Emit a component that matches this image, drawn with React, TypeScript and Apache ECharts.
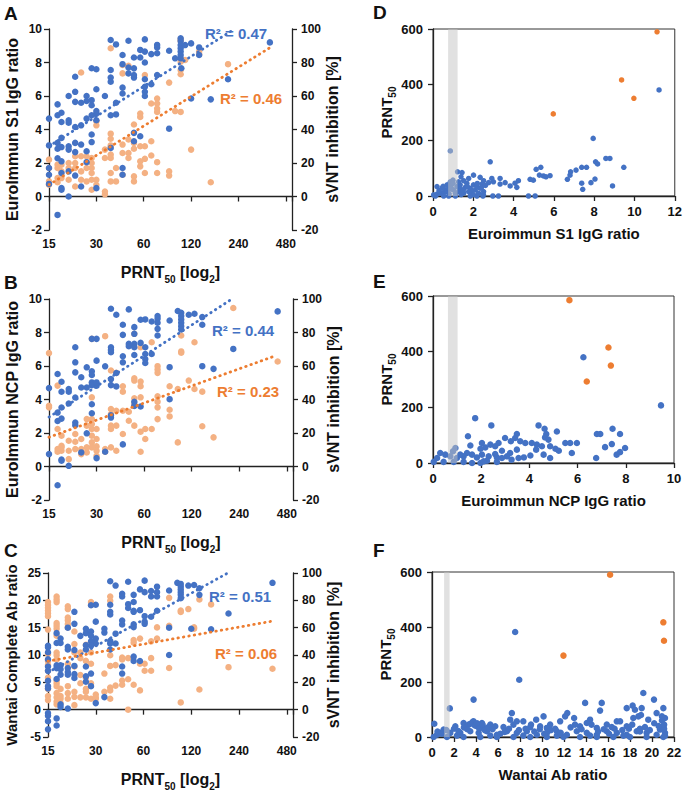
import React, { useEffect, useRef } from 'react';
import * as echarts from 'echarts';

const FONT = '"Liberation Sans", Arial, sans-serif';
const BLUE = '#4472C4';
const ORANGE_L = '#F4B183';
const ORANGE = '#ED7D31';
const INK = '#111';

const X_TICKS_PRNT = [15, 30, 60, 120, 240, 480];

// Panel A: PRNT50 vs Euroimmun S1 IgG ratio (blue) and sVNT % (orange)
const aS1 = [[37,9.34],[48,9.3],[61,9.38],[40,9.08],[103,9.28],[120,9.14],[103,9.04],[103,8.85],[103,8.65],[103,8.45],[103,8.25],[135,8.9],[135,8.45],[110,9.04],[380,9.2],
[57,8.75],[67,8.5],[73,9.05],[73,8.9],[73,8.55],[61,8.65],[87,8.7],[52,8.3],[44,8.45],[57,8.3],[61,8.0],[95,8.25],[104,7.66],[28,7.66],[30,7.6],[22,7.15],
[44,7.9],[48,7.7],[48,7.35],[52,7.25],[52,7.65],[52,7.1],[61,7.0],[67,6.7],[73,7.25],[37,7.55],[37,7.1],[37,6.85],[30,6.4],[44,6.5],[61,6.55],[61,6.25],[61,6.0],[44,6.15],[40,5.6],[34,6.0],[26,6.0],[26,5.7],[28,5.75],[28,5.45],[24,5.6],[22,6.25],[20,6.0],[22,5.65],[17,5.5],[17,4.85],[18,5.0],[18,4.45],[20,4.55],[20,4.4],[22,4.15],[24,4.25],[26,4.65],[28,4.85],[30,4.95],[30,5.1],[30,4.55],[37,4.85],[40,4.9],[15,4.65],[52,3.8],[52,3.3],[57,3.6],[87,4.05],[120,5.85],[160,5.8],[206,7.0],[28,3.7],[28,3.25],[24,3.1],[22,3.2],[22,2.65],[20,3.0],[20,2.8],[18,3.5],[17,3.2],[18,2.95],[17,2.85],[15,3.05],[17,2.28],[18,2.1],[20,1.5],[18,1.4],[26,2.7],[26,2.05],[22,1.25],[24,0.6],[15,1.7],[15,1.3],[15,0.75],[18,0.4],[18,0.5],[20,0.0],[30,0.5],[37,2.9],[44,1.7],[44,1.3],[17,-1.1],[103,9.45]];
const aSvnt = [[103,94],[37,88.5],[103,93],[135,86.5],[135,85],[103,80.5],[110,81.5],[206,79],[24,74],[44,73.5],[48,78],[44,78.5],[61,72.5],[87,68],[103,75.5],[103,73],[67,55.5],[73,58.5],[73,55.5],[73,52.5],[73,50.5],[95,51],[103,50.5],[57,49.5],[57,47.5],[52,43],[30,45],[30,42.5],[37,37.5],[37,34.5],[37,30.5],[48,34],[52,32],[57,30],[67,33],[52,28.5],[120,28],[34,28],[34,23],[37,23],[37,25],[44,26],[48,26],[61,30],[67,24.5],[61,22.5],[57,21],[57,18],[73,20.5],[87,15],[87,12.5],[73,14],[61,14],[52,12],[52,9],[44,13],[37,14],[37,9],[34,3],[30,10],[28,23],[28,20],[28,17],[28,14],[28,10],[26,24],[26,17],[26,9],[24,24],[24,15],[24,10],[22,24],[22,20],[22,17],[22,6],[20,20],[20,17],[20,10],[18,19],[18,15],[18,11],[17,17],[17,11],[17,8.5],[15,22],[15,17],[15,9],[15,7],[160,8.5],[28,4],[30,7],[34,1.3],[40,17],[40,9],[17,19],[44,31],[48,23]];
const trendA_blue = [[15,3.0],[222,9.95]];
const trendA_orange = [[15,7],[398,90]];

// Panel B: PRNT50 vs Euroimmun NCP IgG ratio (blue) and sVNT % (orange)
const bNcp = [[37,9.42],[48,9.38],[40,9.06],[61,8.78],[57,8.76],[67,8.66],[73,8.98],[73,8.82],[73,8.58],[73,8.22],[73,7.82],[87,8.72],[98,9.28],[103,9.18],[103,8.98],[103,8.78],[103,8.58],[103,8.38],[103,8.18],[115,9.06],[125,9.12],[140,8.92],[140,8.46],[420,9.26],[220,7.02],[165,5.83],[140,5.99],[87,5.93],[44,8.46],[52,8.32],[52,7.92],[44,7.86],[48,7.32],[48,7.18],[52,7.32],[52,7.12],[57,7.38],[61,7.12],[61,6.72],[67,6.72],[44,6.58],[44,6.22],[61,6.42],[61,6.18],[52,6.66],[37,7.12],[37,6.96],[37,6.82],[30,7.62],[28,7.62],[22,7.12],[22,6.22],[22,5.62],[26,5.92],[24,5.33],[28,5.68],[28,5.46],[30,6.32],[34,5.98],[40,5.58],[40,4.78],[37,5.22],[28,5.02],[28,4.86],[30,4.82],[30,5.02],[26,4.72],[24,4.72],[22,4.12],[20,4.62],[20,4.46],[18,5.06],[18,4.46],[17,5.52],[15,4.68],[15,0.74],[17,3.22],[18,3.52],[17,2.72],[18,2.86],[20,3.76],[22,2.62],[22,2.46],[26,1.98],[28,3.72],[28,3.18],[37,3.06],[37,2.92],[44,1.32],[30,0.5],[34,0.88],[18,0.42],[18,0.34],[20,0.04],[17,-1.12],[24,0.84],[52,3.62],[52,3.86],[57,3.58],[87,4.02],[37,4.86]];
const bSvnt = [[15,67.7],[220,94.6],[420,62.7],[28,76.2],[34,77.8],[52,79.2],[67,74.2],[57,71.2],[103,78.2],[103,68.7],[103,67.9],[125,74.2],[37,57.3],[40,55.9],[44,47.9],[44,44.7],[52,52.7],[52,51.3],[57,50.7],[57,47.9],[73,59.9],[73,57.9],[73,55.9],[87,47.9],[98,46.3],[115,51.3],[125,46.3],[140,44.7],[73,41.9],[73,38.7],[73,35.3],[87,33.9],[87,29.9],[73,28.3],[52,40.7],[52,37.9],[52,36.3],[57,41.3],[48,32.7],[48,27.3],[44,33.3],[37,34.3],[37,31.3],[40,33.3],[37,24.4],[37,22.4],[40,24.4],[44,19.4],[52,24.4],[57,20.8],[61,22.4],[67,22.4],[61,16.4],[57,8.8],[37,11.4],[40,9.4],[30,22.4],[30,16.4],[30,12],[30,9.4],[28,28.3],[28,22.4],[28,18.4],[28,14.4],[28,11.4],[26,28.3],[26,11.4],[26,8.4],[24,16.4],[24,10.4],[24,7.4],[22,19.4],[22,14.8],[22,10.4],[20,15.4],[20,9.4],[20,4.4],[18,18.4],[18,12.4],[18,11.4],[18,9.4],[17,22.4],[17,10.4],[17,8.8],[15,36.3],[15,35.3],[17,48.3],[28,25.3],[34,10.4],[34,8.8],[30,6.4],[98,14.4],[140,24],[165,17.4],[28,41.3],[26,24.4]];
const trendB_blue = [[15,2.95],[216,10]];
const trendB_orange = [[15,17.5],[388,65.4]];

// Panel C: PRNT50 vs Wantai complete Ab ratio (blue) and sVNT % (orange)
const cWantai = [[37,23.5],[48,23.4],[61,23.6],[40,22.7],[98,23.2],[103,23.0],[103,22.5],[103,22.0],[103,21.5],[103,21.0],[103,20.4],[115,22.7],[125,22.8],[135,22.2],[135,21.0],[390,23.2],[206,17.6],[160,14.7],[120,14.8],[87,15.0],[87,10.0],[57,22.0],[67,21.7],[67,20.7],[73,22.5],[73,21.5],[73,20.7],[73,18.1],[87,21.8],[61,21.5],[44,21.2],[44,20.7],[52,21.0],[52,19.7],[48,19.3],[48,18.6],[52,18.1],[52,17.9],[57,18.2],[61,17.1],[67,17.0],[61,16.1],[61,15.7],[44,16.3],[44,15.6],[52,15.6],[52,15.1],[37,19.2],[37,17.9],[37,17.4],[30,19.2],[28,19.1],[30,16.1],[22,17.9],[22,15.7],[20,15.0],[26,14.8],[26,14.0],[28,14.3],[28,13.5],[24,13.5],[34,14.8],[34,14.1],[40,13.9],[40,12.1],[30,13.0],[30,12.1],[28,12.5],[28,11.7],[26,11.8],[26,11.0],[37,12.6],[37,12.1],[22,10.9],[20,11.5],[20,11.0],[18,13.0],[18,12.2],[17,14.0],[17,12.2],[15,11.7],[15,11.4],[15,10.5],[15,9.2],[17,8.1],[17,7.6],[18,8.1],[18,7.4],[20,7.6],[20,6.9],[20,6.4],[22,8.0],[22,6.5],[22,5.8],[18,6.4],[17,5.6],[15,7.9],[15,7.1],[15,5.3],[15,4.3],[15,3.9],[15,-0.6],[15,-1.1],[15,-2.1],[15,-3.6],[17,-1.6],[17,-2.9],[18,1.0],[18,0.5],[20,0.2],[26,6.1],[26,5.1],[28,6.6],[28,4.3],[30,1.2],[34,2.3],[44,7.9],[44,6.6],[52,9.7],[52,8.9],[57,8.9],[26,7.9],[37,11.0]];
const cSvnt = [[15,78.7],[15,76.6],[15,74.6],[15,72.5],[15,70.5],[15,68.4],[15,58.6],[17,82.8],[17,80.7],[17,78.7],[20,75.6],[20,73.6],[17,63.3],[17,61.3],[17,59.2],[17,54.1],[15,40.8],[15,35.7],[15,32.6],[15,28.5],[15,23.4],[15,15.2],[15,10.0],[15,7.0],[17,41.8],[17,39.8],[17,36.7],[17,21.3],[17,19.3],[17,17.2],[17,12.1],[17,9.0],[17,5.9],[17,3.9],[18,15.2],[18,10.0],[18,8.0],[18,4.9],[20,67.4],[20,65.4],[20,62.7],[20,60.2],[20,33.6],[20,17.2],[20,12.1],[20,8.0],[22,57.2],[22,48.0],[22,41.8],[22,31.6],[22,13.1],[22,9.4],[22,3.3],[24,41.8],[24,37.7],[24,19.3],[24,9.0],[26,47.5],[26,35.7],[26,15.2],[26,13.1],[26,9.0],[28,78.7],[28,76.6],[28,41.8],[28,33.6],[28,19.3],[28,8.0],[30,11.1],[30,8.0],[34,26.4],[34,13.1],[37,82.8],[37,79.7],[37,39.8],[37,32.0],[37,16.2],[37,14.1],[37,8.0],[40,17.6],[44,38.1],[44,36.7],[44,21.3],[44,18.2],[48,37.7],[48,0],[52,51.0],[52,49.0],[52,18.2],[57,52.0],[57,33.6],[57,14.1],[61,28.5],[67,28.5],[61,33.6],[67,50.0],[67,37.7],[73,60.2],[73,52.0],[87,81.8],[87,61.3],[87,30.5],[103,72.5],[103,71.5],[103,5.3],[115,73.6],[125,60.2],[125,59.2],[135,80.7],[135,14.8],[160,77.0],[206,31.1],[390,29.9],[24,25.4],[26,23.4],[40,32.6],[48,22.3],[30,9.0]];
const trendC_blue = [[15,6.8],[204,25]];
const trendC_orange = [[15,35.5],[390,64.8]];

// Panels D-F: assay ratio vs PRNT50 (orange = highest titres)
const dS1 = [[0.86,162],[2.84,123],[7.95,207],[8.58,135],[8.78,135],[8.07,123],[8.17,115],[9.47,103],[8.91,36],[7.62,103],[7.38,103],[7.1,93],[6.83,87],[6.8,75],[6.67,60],[7.38,46],[7.43,24],[7.84,48],[8.04,61],[5.12,96],[5.35,103],[5.28,75],[5.48,72],[5.61,69],[5.81,73],[4.82,60],[4.98,57],[4.24,55],[4.07,46],[4.16,31],[3.83,36],[3.58,48],[3.33,63],[3.33,43],[3.0,51],[2.92,63],[2.76,48],[2.51,55],[2.34,67],[2.01,75],[1.77,63],[1.44,84],[1.22,87],[0.86,51],[0.2,34],[0.45,28],[3.25,0],[2.97,0],[2.48,0],[4.74,0],[5.07,0],[0.03,4],[0.2,7],[0.36,10],[0.53,12],[0.61,22],[0.69,16],[0.78,28],[0.89,36],[1.02,22],[1.11,10],[1.19,34],[1.27,16],[1.35,40],[1.44,22],[1.52,10],[1.6,31],[1.68,46],[1.77,16],[1.85,28],[1.93,10],[2.01,40],[2.1,22],[2.18,34],[2.26,10],[2.34,28],[2.43,43],[2.51,16],[1.52,55],[1.39,69],[1.27,51],[0.99,57],[1.11,0],[0.53,0],[0.12,0],[0.78,0],[1.85,0],[2.18,0],[11.22,381],
[0.3,20],[0.5,35],[0.7,40],[0.9,25],[1.0,45],[1.3,30],[1.5,20],[1.7,35],[1.9,20],[2.2,45],[2.4,30],[2.6,38],[0.8,8],[1.4,5],[2.0,5],[2.5,5]];
const dS1High = [[5.97,295],[9.36,417],[9.97,351],[11.12,590]];
const dBand = [[0.75,1.22]];

const eNcp = [[1.75,161],[2.42,135],[1.45,96],[4.38,135],[4.63,123],[4.7,104],[4.65,92],[5.14,113],[4.79,84],[3.48,104],[3.41,90],[2.99,90],[3.23,78],[2.72,72],[2.58,60],[2.38,66],[2.17,56],[1.97,51],[1.55,63],[3.62,78],[3.83,72],[4.1,72],[4.31,66],[4.52,60],[4.28,48],[4.86,60],[5.08,51],[5.49,72],[5.69,72],[5.97,72],[5.76,36],[6.8,104],[6.94,104],[7.45,123],[7.76,104],[7.42,68],[7.14,57],[7.97,54],[7.76,39],[7.62,30],[6.77,18],[5.22,44],[4.59,30],[4.04,27],[3.77,20],[3.48,48],[3.2,36],[3.07,24],[2.86,18],[2.58,32],[2.31,24],[2.03,30],[1.82,20],[1.62,30],[1.41,36],[1.27,24],[1.13,30],[0.99,18],[0.93,54],[0.83,42],[0.72,24],[0.51,30],[0.3,36],[0.17,18],[0.03,4],[0.44,4],[0.86,4],[1.27,4],[1.62,0],[1.97,0],[2.65,4],[4.86,18],[3.26,12],[3.55,18],[2.65,20],[2.24,8],[2.86,44],[2.03,72],[2.1,6],[6.24,380],[9.46,207]];
const eNcpHigh = [[5.66,585],[7.28,415],[7.38,350],[6.38,293]];
const eBand = [[0.62,1.02]];

const fWantai = [[3.78,136],[13.92,124],[15.43,124],[15.28,96],[19.21,160],[20.18,136],[18.24,114],[17.7,105],[21.03,105],[19.06,105],[18.45,99],[7.26,87],[12.3,87],[12.1,75],[10.14,75],[9.47,63],[8.3,57],[7.71,57],[7.11,63],[3.78,57],[4.54,51],[5.3,45],[0.21,48],[1.62,104],[16.8,57],[17.1,57],[19.66,63],[20.42,87],[21.18,69],[21.03,39],[18.3,69],[18.76,75],[14.37,63],[14.07,51],[12.92,69],[11.65,57],[10.74,45],[15.89,45],[2.87,51],[2.12,39],[3.33,45],[4.08,39],[4.69,33],[5.75,39],[6.5,36],[8.93,36],[9.83,39],[10.44,33],[13.46,39],[14.98,33],[16.34,36],[17.7,39],[19.36,36],[20.72,27],[1.06,27],[0.76,15],[0.45,8],[1.66,15],[2.57,15],[3.48,21],[4.24,15],[4.99,21],[5.9,8],[6.81,21],[7.71,15],[8.62,21],[9.53,8],[10.44,15],[11.35,21],[12.26,8],[13.16,21],[14.07,15],[14.98,8],[15.89,21],[16.8,15],[17.7,8],[18.61,21],[19.51,15],[20.42,8],[21.18,15],[21.18,5],[0.15,0],[1.36,0],[2.87,0],[4.39,0],[5.9,0],[7.41,0],[8.93,0],[10.44,0],[11.95,0],[13.46,0],[14.98,0],[16.49,0],[18.0,0],[19.51,0],[21.03,0],[2.27,5],[5.3,5],[8.3,5],[11.35,5],[14.37,5],[17.4,5],[7.56,382],[7.93,208],
[0.5,20],[0.9,12],[1.3,25],[2.0,30],[2.4,22],[2.9,35],[3.2,28],[3.5,48],[3.7,55],[3.9,42],[4.1,50],[4.3,30],[4.6,45],[4.8,25],[5.1,35],[5.5,28],[6.2,12],[6.6,18],[7.0,30],[7.4,45],[7.9,25],[8.5,30],[9.0,45],[9.3,20],[9.8,28],[10.2,12],[10.8,25],[11.2,30],[11.7,15],[12.6,35],[13.0,45],[13.6,28],[14.5,45],[15.1,20],[15.6,28],[16.1,12],[16.6,30],[17.3,25],[17.9,30],[18.2,45],[18.9,30],[19.8,25],[20.2,50],[20.6,40],[20.9,60],[21.1,30],[21.1,45],[20.9,75],[19.0,80],[18.9,20]];
const fWantaiHigh = [[16.19,590],[11.95,296],[21.03,417],[21.09,350]];
const fBand = [[1.1,1.6]];

const R2 = ['R² = 0.47', 'R² = 0.46', 'R² = 0.44', 'R² = 0.23', 'R² = 0.51', 'R² = 0.06'];

const lx = (p: number) => Math.log2(p / 15);

export default function App() {
  const ref = useRef<HTMLDivElement>(null);
  useEffect(() => {
    if (!ref.current) return;
    const chart = echarts.init(ref.current, undefined, { renderer: 'svg' });
    const grids: any[] = [];
    const xAxes: any[] = [];
    const yAxes: any[] = [];
    const series: any[] = [];
    const subStyle = (lh: number) => ({ sub: { fontSize: 10, fontWeight: 'bold', fontFamily: FONT, color: INK, verticalAlign: 'bottom', lineHeight: 11 }, b: { lineHeight: lh } });

    const left = [
      { grid: { left: 49, top: 29, width: 243, height: 201 }, y: [-2, 10, 2], name: 'EuroImmun S1 IgG ratio', nfs: 16, blue: aS1, orange: aSvnt, tb: trendA_blue, to: trendA_orange },
      { grid: { left: 49, top: 299, width: 244, height: 201 }, y: [-2, 10, 2], name: 'EuroImmun NCP IgG ratio', nfs: 16, blue: bNcp, orange: bSvnt, tb: trendB_blue, to: trendB_orange },
      { grid: { left: 48, top: 573, width: 245, height: 196 }, y: [-5, 25, 5], name: 'Wantai Complete Ab ratio', nfs: 15, blue: cWantai, orange: cSvnt, tb: trendC_blue, to: trendC_orange },
    ];
    const axisLine = { show: true, lineStyle: { color: '#222', width: 1.3 } };
    const tick = { show: true, length: 5, lineStyle: { color: '#222', width: 1.3 } };
    const lbl = (m: number, fs = 12) => ({ color: INK, fontSize: fs, fontWeight: 'bold', fontFamily: FONT, margin: m });

    left.forEach((p, i) => {
      grids.push(p.grid);
      xAxes.push({
        type: 'value', gridIndex: i, min: 0, max: 5.13, interval: 1,
        axisLine: { ...axisLine, onZero: true }, axisTick: tick, splitLine: { show: false },
        axisLabel: { ...lbl(8), formatter: (v: number) => (Math.abs(v - Math.round(v)) < 1e-6 && X_TICKS_PRNT[Math.round(v)] !== undefined ? String(X_TICKS_PRNT[Math.round(v)]) : '') },
        name: 'PRNT{sub|50} [log{sub|2}]', nameLocation: 'middle', nameGap: 30,
        nameTextStyle: { fontSize: 16, fontWeight: 'bold', fontFamily: FONT, color: INK, lineHeight: 24, rich: subStyle(24) },
      });
      const yl = yAxes.length;
      yAxes.push({
        type: 'value', gridIndex: i, position: 'left', min: p.y[0], max: p.y[1], interval: p.y[2],
        axisLine: { ...axisLine, onZero: false }, axisTick: tick, splitLine: { show: false }, axisLabel: lbl(7),
        name: p.name, nameLocation: 'middle', nameRotate: 90, nameGap: 29,
        nameTextStyle: { fontSize: p.nfs, fontWeight: 'bold', fontFamily: FONT, color: INK },
      });
      const yr = yAxes.length;
      yAxes.push({
        type: 'value', gridIndex: i, position: 'right', min: -20, max: 100, interval: 20,
        axisLine: { ...axisLine, onZero: false }, axisTick: tick, splitLine: { show: false }, axisLabel: lbl(9),
        name: 'sVNT inhibition [%]', nameLocation: 'middle', nameRotate: 90, nameGap: 30,
        nameTextStyle: { fontSize: 16, fontWeight: 'bold', fontFamily: FONT, color: INK },
      });
      series.push({ type: 'scatter', xAxisIndex: i, yAxisIndex: yr, symbolSize: 6.5, itemStyle: { color: ORANGE_L, opacity: 1 }, data: p.orange.map(([x, y]) => [lx(x), y]), z: 2 });
      series.push({ type: 'scatter', xAxisIndex: i, yAxisIndex: yl, symbolSize: 6.5, itemStyle: { color: BLUE, opacity: 1 }, data: p.blue.map(([x, y]) => [lx(x), y]), z: 3 });
      series.push({ type: 'line', xAxisIndex: i, yAxisIndex: yl, symbol: 'none', data: p.tb.map(([x, y]) => [lx(x), y]), lineStyle: { color: BLUE, width: 2.8, type: [0.5, 5], cap: 'round' }, z: 4 });
      series.push({ type: 'line', xAxisIndex: i, yAxisIndex: yr, symbol: 'none', data: p.to.map(([x, y]) => [lx(x), y]), lineStyle: { color: ORANGE, width: 2.8, type: [0.5, 5], cap: 'round' }, z: 4 });
    });

    const right = [
      { grid: { left: 433, top: 29, width: 242, height: 167 }, xmax: 12, name: 'Euroimmun S1 IgG ratio', blue: dS1, hi: dS1High, band: dBand, size: 5.5 },
      { grid: { left: 433, top: 296, width: 241, height: 167 }, xmax: 10, name: 'Euroimmun NCP IgG ratio', blue: eNcp, hi: eNcpHigh, band: eBand, size: 6.5 },
      { grid: { left: 432, top: 572, width: 242, height: 165 }, xmax: 22, name: 'Wantai Ab ratio', blue: fWantai, hi: fWantaiHigh, band: fBand, size: 6.5 },
    ];
    right.forEach((p) => {
      const gi = grids.length;
      grids.push({ ...p.grid, show: true, borderColor: '#333', borderWidth: 1, backgroundColor: 'transparent' });
      xAxes.push({
        type: 'value', gridIndex: gi, min: 0, max: p.xmax, interval: 2,
        axisLine: { ...axisLine, onZero: false }, axisTick: tick, splitLine: { show: false }, axisLabel: lbl(9, 13),
        name: p.name, nameLocation: 'middle', nameGap: 30,
        nameTextStyle: { fontSize: 15, fontWeight: 'bold', fontFamily: FONT, color: INK },
      });
      const yi = yAxes.length;
      yAxes.push({
        type: 'value', gridIndex: gi, min: 0, max: 600, interval: 200,
        axisLine: { ...axisLine, onZero: false }, axisTick: tick, splitLine: { show: false }, axisLabel: lbl(10, 13),
        name: 'PRNT{sub|50}', nameLocation: 'middle', nameRotate: 90, nameGap: 34,
        nameTextStyle: { fontSize: 15, fontWeight: 'bold', fontFamily: FONT, color: INK, lineHeight: 22, rich: subStyle(22) },
      });
      series.push({ type: 'scatter', xAxisIndex: gi, yAxisIndex: yi, symbolSize: p.size, itemStyle: { color: BLUE, opacity: 1 }, data: p.blue, z: 2 });
      series.push({ type: 'scatter', xAxisIndex: gi, yAxisIndex: yi, symbolSize: p.size, itemStyle: { color: ORANGE, opacity: 1 }, data: p.hi, z: 2 });
      series.push({
        type: 'custom', xAxisIndex: gi, yAxisIndex: yi, z: 6, silent: true,
        data: p.band.map(([a, b]) => [a, b, 0, 600]),
        encode: { x: [0, 1], y: [2, 3] },
        renderItem: (params: any, api: any) => {
          const p1 = api.coord([api.value(0), api.value(3)]);
          const p2 = api.coord([api.value(1), api.value(2)]);
          return { type: 'rect', shape: { x: p1[0], y: p1[1], width: p2[0] - p1[0], height: p2[1] - p1[1] }, style: { fill: 'rgba(196,196,196,0.5)' } };
        },
      });
    });

    const letter = (t: string, x: number, y: number) => ({ type: 'text', x, y, style: { text: t, fontSize: 19, fontWeight: 'bold', fontFamily: FONT, fill: INK, verticalAlign: 'middle' } });
    const r2 = (t: string, x: number, y: number, c: string) => ({ type: 'text', x, y, z: 10, style: { text: t, fontSize: 15, fontWeight: 'bold', fontFamily: FONT, fill: c, verticalAlign: 'middle' } });

    chart.setOption({
      animation: false,
      textStyle: { fontFamily: FONT },
      grid: grids,
      xAxis: xAxes,
      yAxis: yAxes,
      series,
      graphic: [
        letter('A', 4, 13), letter('B', 4, 282), letter('C', 4, 550),
        letter('D', 373, 12), letter('E', 373, 281), letter('F', 373, 550),
        r2(R2[0], 205, 33, BLUE), r2(R2[1], 220, 98, ORANGE),
        r2(R2[2], 212, 330, BLUE), r2(R2[3], 217, 391, ORANGE),
        r2(R2[4], 209, 596, BLUE), r2(R2[5], 215, 653, ORANGE),
      ],
    });
    return () => chart.dispose();
  }, []);
  return <div ref={ref} style={{ position: 'absolute', left: 0, top: 0, width: 685, height: 792, background: '#fff' }} />;
}
